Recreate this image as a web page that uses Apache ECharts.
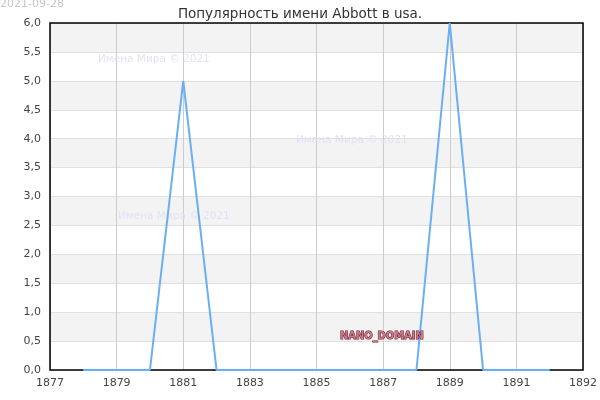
<!DOCTYPE html>
<html>
<head>
<meta charset="utf-8">
<script src="https://cdn.jsdelivr.net/npm/echarts@6/dist/echarts.min.js"></script>
<style>html,body{margin:0;padding:0;background:#fff}#c{width:600px;height:400px}</style>
</head>
<body>
<div id="c"></div>
<script>
var years = [1878,1879,1880,1881,1882,1883,1884,1885,1886,1887,1888,1889,1890,1891,1892];
var values = [0,0,0,5,0,0,0,0,0,0,0,6,0,0,0];
var xStart = 1877;
var xTickLabels = ['1877','1879','1881','1883','1885','1887','1889','1891','1892'];
var yTickStep = 0.5;
var titleText = 'Популярность имени Abbott в usa.';
var dateText = '2021-09-28';
var watermark = 'Имена Мира © 2021';

var chart = echarts.init(document.getElementById('c'), null, {renderer:'canvas'});
var font = 'DejaVu Sans';
chart.setOption({
  animation:false,
  backgroundColor:'#fff',
  title:{text:titleText,left:'center',top:2,textStyle:{fontFamily:font,fontSize:13.5,fontWeight:'normal',color:'#333'}},
  grid:{left:50,right:14,top:23,bottom:30,show:true,borderColor:'#000',borderWidth:1.5,backgroundColor:'transparent',z:3},
  xAxis:{type:'value',min:0,max:16,interval:2,
    axisLine:{show:false},axisTick:{show:false},
    axisLabel:{fontFamily:font,fontSize:11,color:'#444',margin:8,
      formatter:function(v){return xTickLabels[Math.round(v/2)];}},
    splitLine:{show:true,lineStyle:{color:'#cccccc',width:1}}},
  yAxis:{type:'value',min:0,max:6,interval:yTickStep,
    axisLine:{show:false},axisTick:{show:false},
    axisLabel:{fontFamily:font,fontSize:11,color:'#444',margin:9,
      formatter:function(v){return v.toFixed(1).replace('.',',');}},
    splitLine:{show:true,lineStyle:{color:'#e0e0e0',width:1}},
    splitArea:{show:true,areaStyle:{color:['#ffffff','#f3f3f3']}}},
  graphic:[
    {type:'text',left:0,top:-1,style:{text:dateText,font:'11px "DejaVu Sans"',fill:'#c8c8c8'}},
    {type:'text',x:98,y:54,z:5,style:{text:watermark,font:'10.5px "DejaVu Sans"',fill:'#e2e2f4'}},
    {type:'text',x:296,y:135,z:5,style:{text:watermark,font:'10.5px "DejaVu Sans"',fill:'#e2e2f4'}},
    {type:'text',x:118,y:211,z:5,style:{text:watermark,font:'10.5px "DejaVu Sans"',fill:'#e2e2f4'}},
    {type:'text',x:340,y:331,z:100,style:{text:'NANO_DOMAIN',font:'bold 11px "DejaVu Sans Condensed", "DejaVu Sans"',fill:'#c47a8a',stroke:'#6a0f22',lineWidth:1}}
  ],
  series:[{type:'line',z:6,data:years.map(function(y,i){return [y-xStart,values[i]];}),
    showSymbol:false,symbol:'none',lineStyle:{color:'#6aaef5',width:2},itemStyle:{color:'#6aaef5'}}]
});
</script>
</body>
</html>
